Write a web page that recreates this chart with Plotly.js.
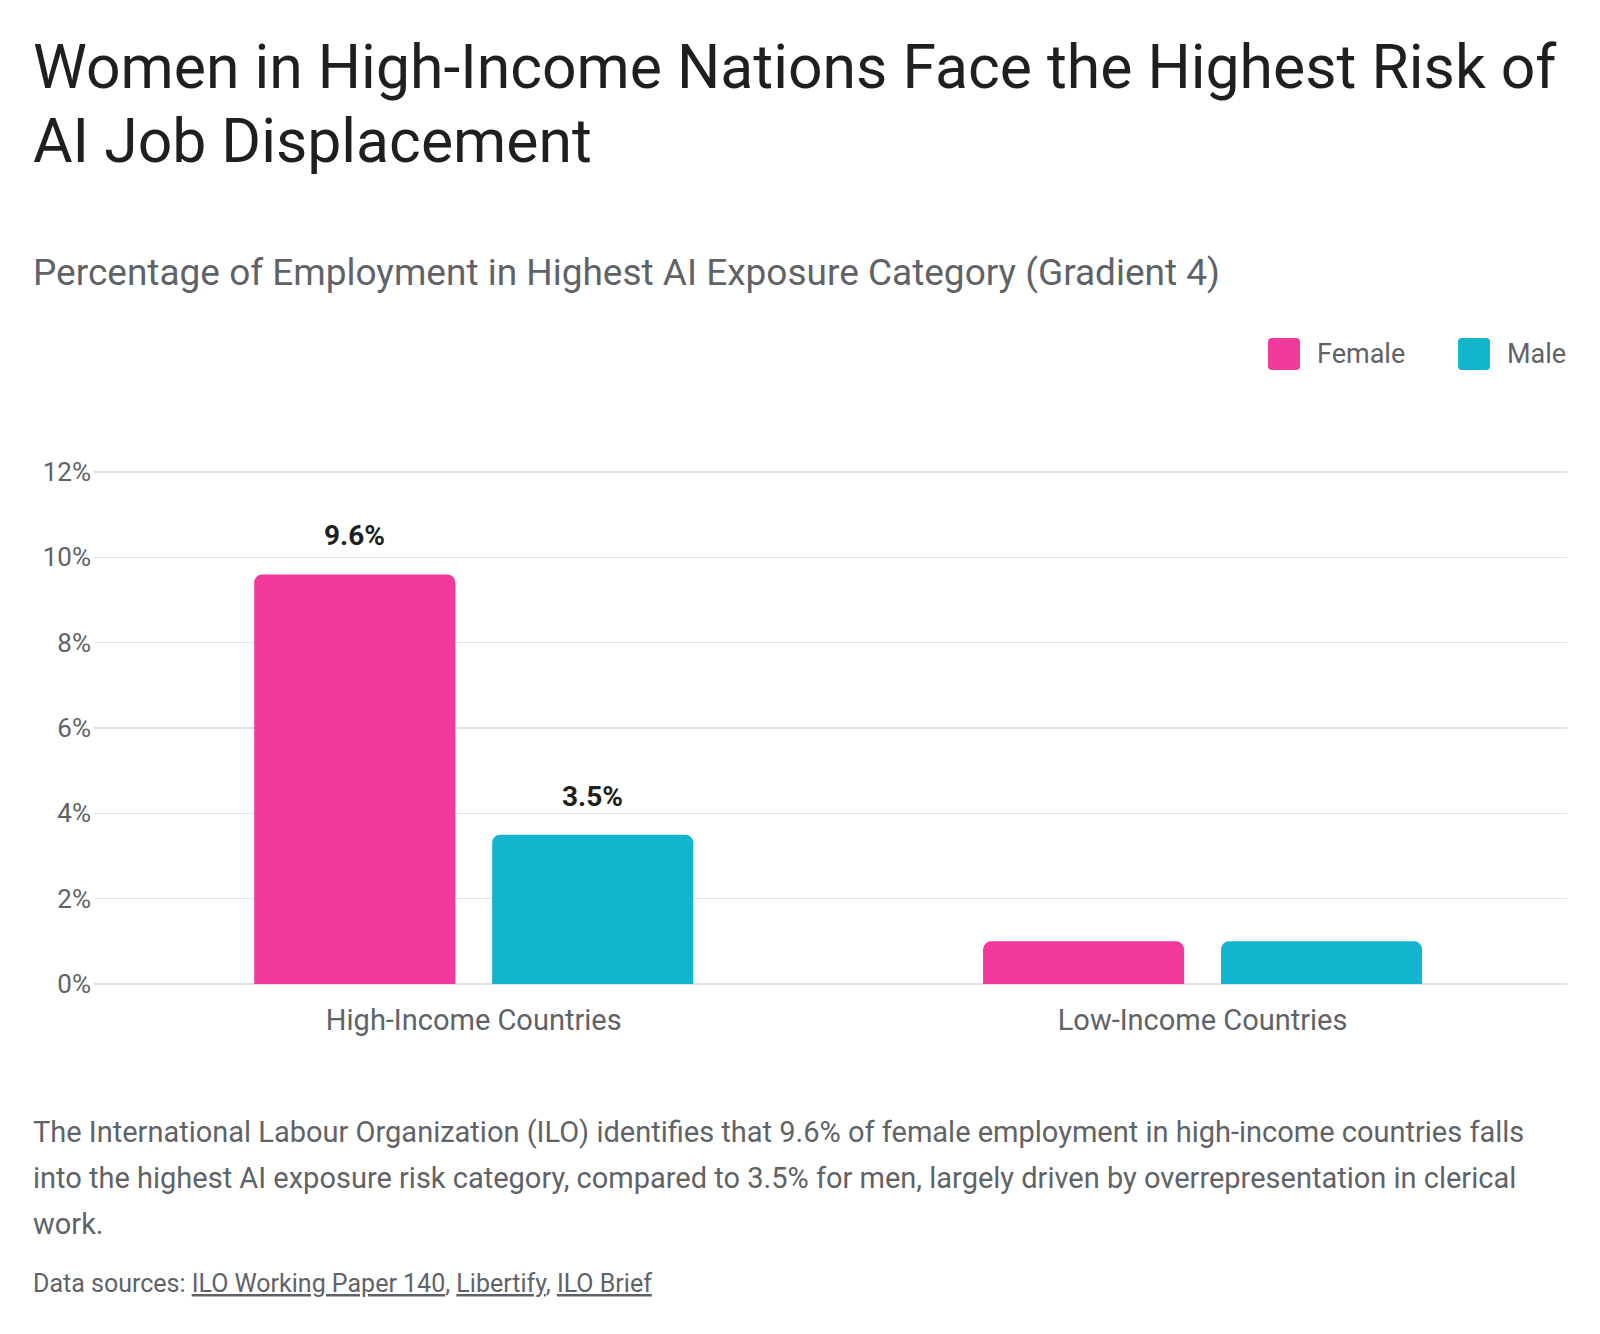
<!DOCTYPE html>
<html>
<head>
<meta charset="utf-8">
<script src="https://cdn.plot.ly/plotly-3.0.1.min.js"></script>
<style>
  html, body { margin: 0; padding: 0; background: #ffffff; }
  #chart { width: 1600px; height: 1334px; }
</style>
</head>
<body>
<div id="chart"></div>
<script>
// ---------------- DATA ----------------
const categories = ["High-Income Countries", "Low-Income Countries"];
const seriesNames = ["Female", "Male"];
const femaleValues = [9.6, 1.0];
const maleValues = [3.5, 1.0];
const labeledCategories = ["High-Income Countries"];
const yTickVals = [0, 2, 4, 6, 8, 10, 12];
const yTickText = ["0%", "2%", "4%", "6%", "8%", "10%", "12%"];

const titleLines = [
  "Women in High-Income Nations Face the Highest Risk of",
  "AI Job Displacement"
];
const subtitleText = "Percentage of Employment in Highest AI Exposure Category (Gradient 4)";
const footerLines = [
  "The International Labour Organization (ILO) identifies that 9.6% of female employment in high-income countries falls",
  "into the highest AI exposure risk category, compared to 3.5% for men, largely driven by overrepresentation in clerical",
  "work."
];
const sourcesPrefix = "Data sources: ";
const sourceNames = ["ILO Working Paper 140", "Libertify", "ILO Brief"];

// ---------------- STYLE / LAYOUT ----------------
const FONT = "Roboto, 'Noto Sans', sans-serif";
const COLORS = ["#F4399E", "#13B4CD"];
const DARK = "#1f1f1f";
const GREY = "#5f6368";
const W = 1600, H = 1334;
const YMIN = 0, YMAX = 12;
const PPU = 512 / 12;              // pixels per percentage point
const YPAD = 2 / PPU;              // tiny pad so the 0% and 12% gridlines are drawn
const L = 94, R = 1567, T = 472 - 2, B = 984 + 2;
const BARGAP = 0.347, BARGROUPGAP = 0.155;

const px2x = p => (p - L) / (R - L);
const px2y = p => (B - p) / (B - T);

function textAnn(text, xPx, baselinePx, size, color, extra) {
  return Object.assign({
    xref: "paper", yref: "paper",
    x: px2x(xPx), y: px2y(baselinePx + 0.244 * size + 1),
    xanchor: "left", yanchor: "bottom", align: "left",
    text: text, showarrow: false,
    font: { family: FONT, size: size, color: color }
  }, extra || {});
}

function roundRectPath(x0, y0, x1, y1, r) {
  const X = px2x, Y = px2y;
  return [
    "M", X(x0 + r), Y(y0),
    "L", X(x1 - r), Y(y0),
    "Q", X(x1), Y(y0), X(x1), Y(y0 + r),
    "L", X(x1), Y(y1 - r),
    "Q", X(x1), Y(y1), X(x1 - r), Y(y1),
    "L", X(x0 + r), Y(y1),
    "Q", X(x0), Y(y1), X(x0), Y(y1 - r),
    "L", X(x0), Y(y0 + r),
    "Q", X(x0), Y(y0), X(x0 + r), Y(y0),
    "Z"
  ].join(" ");
}

const seriesValues = [femaleValues, maleValues];

const traces = seriesNames.map((name, i) => ({
  type: "bar",
  name: name,
  x: categories,
  y: seriesValues[i],
  marker: { color: COLORS[i], line: { width: 0 } },
  hoverinfo: "x+y+name",
  showlegend: false
}));

const annotations = [];
titleLines.forEach((line, i) => {
  annotations.push(textAnn(line, 31, 89 + i * 74, 60.7, DARK));
});
annotations.push(textAnn(subtitleText, 31, 286, 37, GREY));

// legend
const legendItems = [
  { sq: 1268, tx: 1315 },
  { sq: 1458, tx: 1505 }
];
const shapes = [];
seriesNames.forEach((name, i) => {
  const it = legendItems[i];
  shapes.push({
    type: "path", xref: "paper", yref: "paper",
    path: roundRectPath(it.sq, 338, it.sq + 32, 370, 4),
    fillcolor: COLORS[i], line: { width: 0 }
  });
  annotations.push(textAnn(name, it.tx, 364, 27, GREY));
});

// value labels
const groupWidth = 1 - BARGAP;
labeledCategories.forEach(cat => {
  const ci = categories.indexOf(cat);
  seriesValues.forEach((vals, si) => {
    annotations.push({
      xref: "x", yref: "y",
      x: ci + (si === 0 ? -1 : 1) * groupWidth / 4,
      y: vals[ci],
      xanchor: "center", yanchor: "bottom", yshift: 20,
      text: vals[ci].toFixed(1) + "%",
      showarrow: false,
      font: { family: FONT, size: 28, color: DARK, weight: 700 }
    });
  });
});

// footer
footerLines.forEach((line, i) => {
  annotations.push(textAnn(line, 31, 1143 + i * 46, 29, GREY));
});
const sourcesText = sourcesPrefix + sourceNames
  .map(s => '<span style="text-decoration:underline">' + s + '</span>')
  .join(", ");
annotations.push(textAnn(sourcesText, 31, 1293, 25, GREY));

const layout = {
  width: W, height: H, autosize: false,
  margin: { l: L, r: W - R, t: T, b: H - B, pad: 0 },
  paper_bgcolor: "#ffffff", plot_bgcolor: "#ffffff",
  font: { family: FONT, color: GREY },
  barmode: "group",
  bargap: BARGAP, bargroupgap: BARGROUPGAP,
  barcornerradius: 8,
  showlegend: false,
  xaxis: {
    type: "category",
    categoryorder: "array", categoryarray: categories,
    range: [-0.521, 1.5],
    showgrid: false, zeroline: false, showline: false,
    ticks: "",
    tickfont: { family: FONT, size: 29, color: GREY },
    ticklabelstandoff: 14,
    fixedrange: true
  },
  yaxis: {
    range: [YMIN - YPAD, YMAX + YPAD],
    tickvals: yTickVals, ticktext: yTickText,
    showgrid: true, gridcolor: "#e2e2e2", gridwidth: 1.5,
    zeroline: false, showline: false, ticks: "",
    tickfont: { family: FONT, size: 26, color: GREY },
    ticklabelstandoff: 2,
    fixedrange: true
  },
  annotations: annotations,
  shapes: shapes
};

Plotly.newPlot("chart", traces, layout, { displayModeBar: false, staticPlot: true });
</script>
</body>
</html>
